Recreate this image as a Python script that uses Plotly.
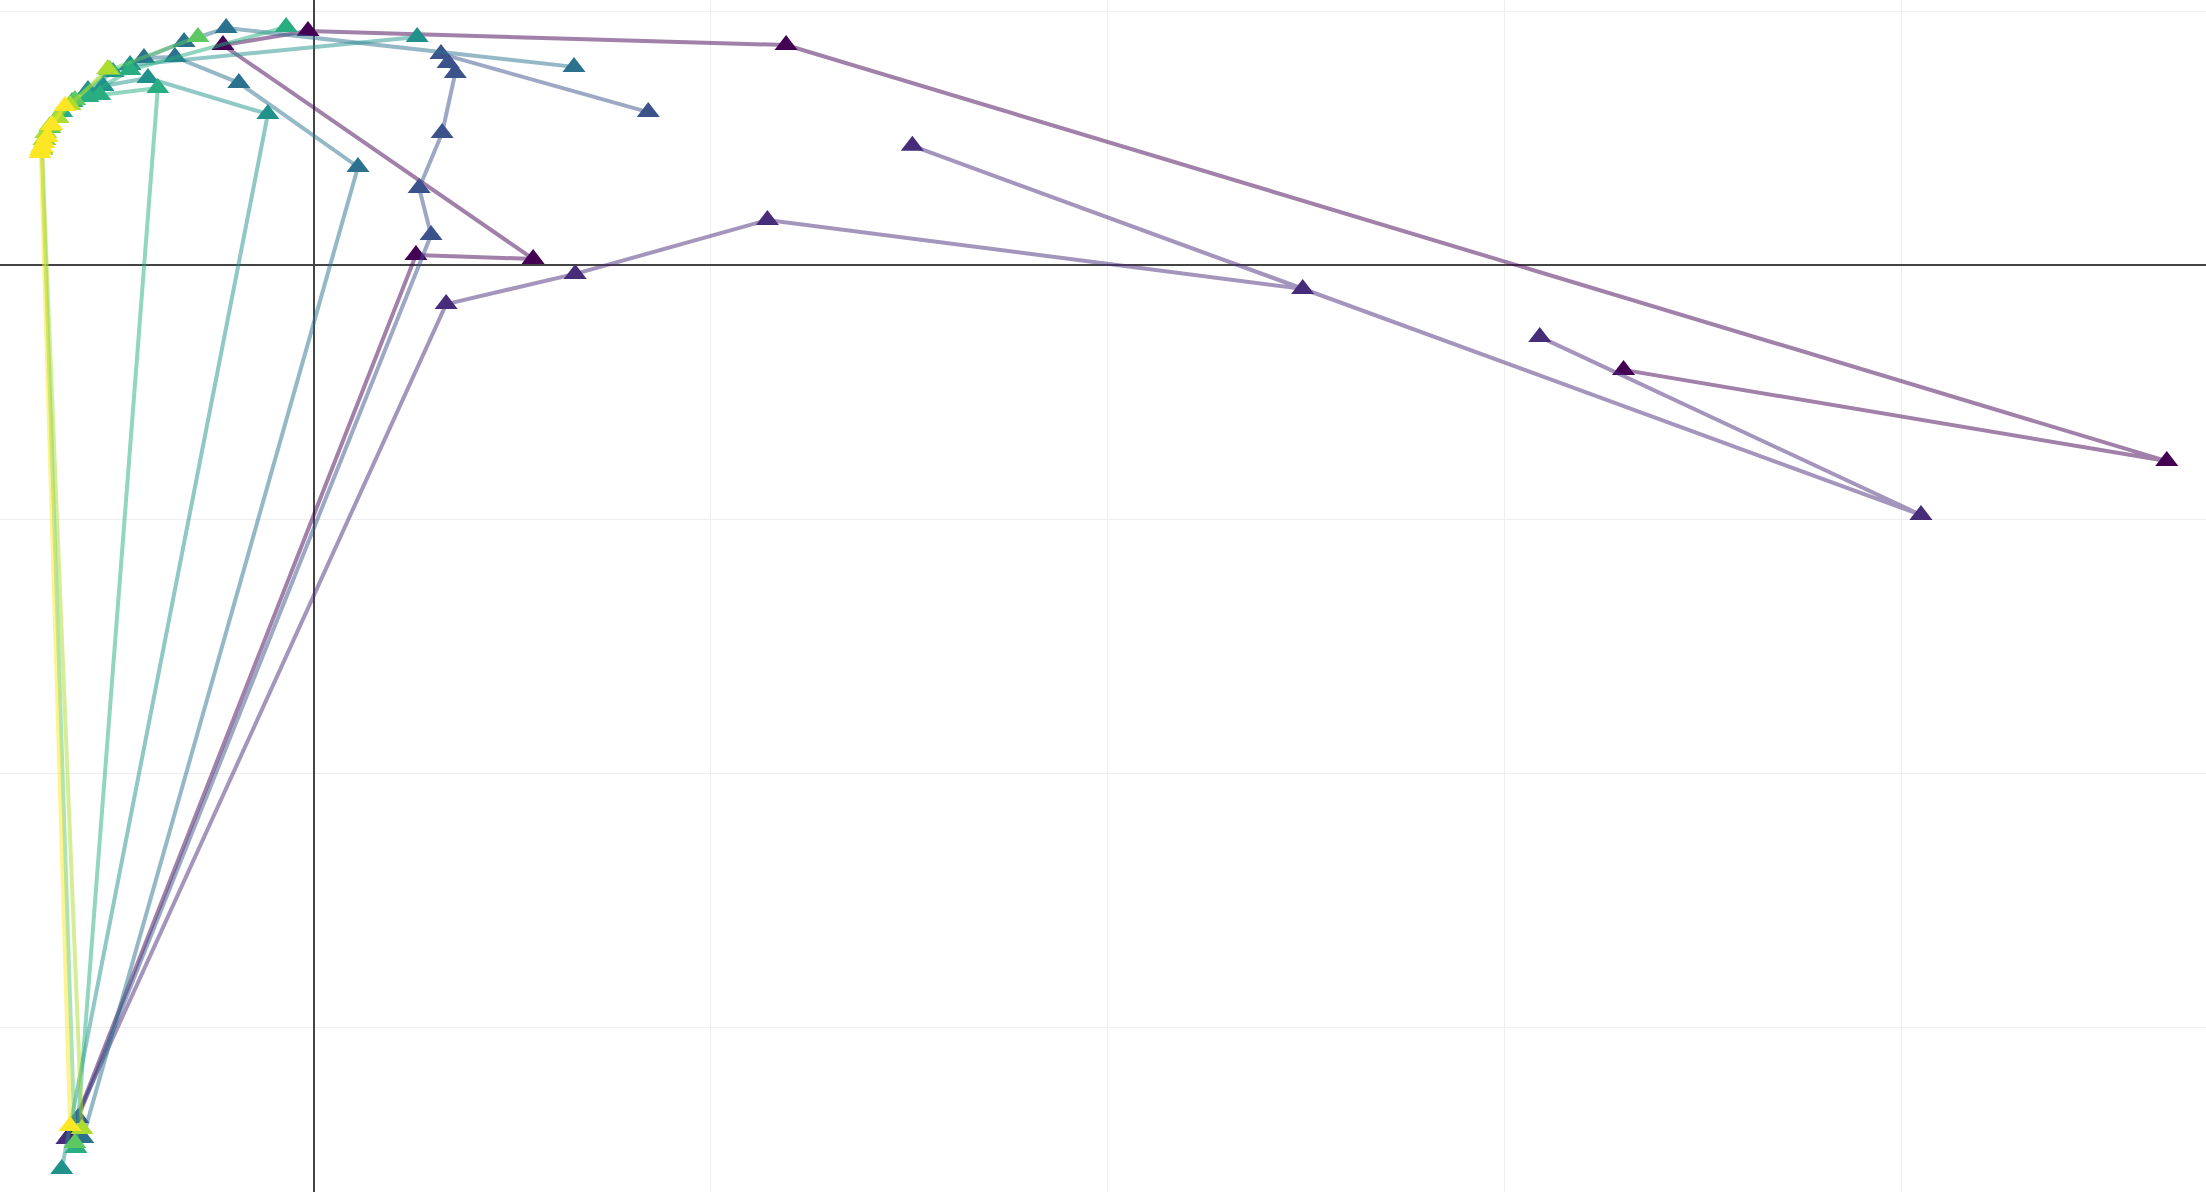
import plotly.graph_objects as go

# Trajectory data: 9 runs, 8 steps each
x_t0 = [-0.613, 0.258, 0.553, -0.228, -0.014, 1.190, 4.667, 3.299]
y_t0 = [-3.425, 0.039, 0.024, 0.866, 0.921, 0.866, -0.772, -0.413]

x_t1 = [-0.621, 0.334, 0.659, 1.143, 2.491, 1.508, 4.048, 3.088]
y_t1 = [-3.441, -0.154, -0.035, 0.177, -0.094, 0.469, -0.984, -0.283]

x_t2 = [-0.593, 0.296, 0.266, 0.324, 0.357, 0.339, 0.321, 0.843]
y_t2 = [-3.358, 0.118, 0.303, 0.520, 0.756, 0.795, 0.831, 0.602]

x_t3 = [-0.581, 0.112, -0.188, -0.349, -0.427, -0.326, -0.220, 0.656]
y_t3 = [-3.437, 0.386, 0.717, 0.819, 0.815, 0.878, 0.933, 0.780]

x_t4 = [-0.634, -0.115, -0.417, -0.530, -0.568, -0.505, -0.462, 0.261]
y_t4 = [-3.559, 0.594, 0.736, 0.705, 0.689, 0.760, 0.787, 0.898]

x_t5 = [-0.598, -0.392, -0.538, -0.568, -0.608, -0.634, -0.462, -0.069]
y_t5 = [-3.476, 0.697, 0.669, 0.661, 0.642, 0.602, 0.768, 0.937]

x_t6 = [-0.601, -0.684, -0.677, -0.664, -0.644, -0.601, -0.513, -0.291]
y_t6 = [-3.457, 0.453, 0.492, 0.539, 0.579, 0.650, 0.768, 0.898]

x_t7 = [-0.583, -0.684, -0.679, -0.674, -0.664, -0.644, -0.613, -0.518]
y_t7 = [-3.402, 0.461, 0.492, 0.520, 0.547, 0.579, 0.630, 0.772]

x_t8 = [-0.613, -0.689, -0.687, -0.684, -0.679, -0.671, -0.659, -0.626]
y_t8 = [-3.390, 0.441, 0.453, 0.465, 0.480, 0.504, 0.551, 0.626]

series_x = [x_t0, x_t1, x_t2, x_t3, x_t4, x_t5, x_t6, x_t7, x_t8]
series_y = [y_t0, y_t1, y_t2, y_t3, y_t4, y_t5, y_t6, y_t7, y_t8]

colors = ['#440154', '#472c7a', '#3b528b', '#2c728e', '#21918c',
          '#28ae80', '#5ec962', '#addc30', '#fde725']


def rgba(h, a):
    h = h.lstrip('#')
    r, g, b = int(h[0:2], 16), int(h[2:4], 16), int(h[4:6], 16)
    return f'rgba({r},{g},{b},{a})'


fig = go.Figure()
for xs, ys, c in zip(series_x, series_y, colors):
    fig.add_trace(go.Scatter(
        x=xs, y=ys, mode='lines+markers',
        line=dict(color=rgba(c, 0.5), width=4),
        marker=dict(symbol='triangle-up', size=20, color=c),
        showlegend=False,
    ))

fig.update_layout(
    template='none',
    width=2206, height=1192,
    margin=dict(l=0, r=0, t=0, b=0),
    plot_bgcolor='white', paper_bgcolor='white',
    showlegend=False,
)
fig.update_xaxes(range=[-0.7895, 4.7658], dtick=1, showticklabels=False,
                 showgrid=True, gridcolor='#eee', zeroline=True,
                 zerolinecolor='#444', zerolinewidth=2)
fig.update_yaxes(range=[-3.6496, 1.0433], dtick=1, showticklabels=False,
                 showgrid=True, gridcolor='#eee', zeroline=True,
                 zerolinecolor='#444', zerolinewidth=2)

fig.write_html(
    'out.html',
    config={'displayModeBar': False},
    post_script="document.body.style.margin='0';document.body.style.overflow='hidden';",
)
